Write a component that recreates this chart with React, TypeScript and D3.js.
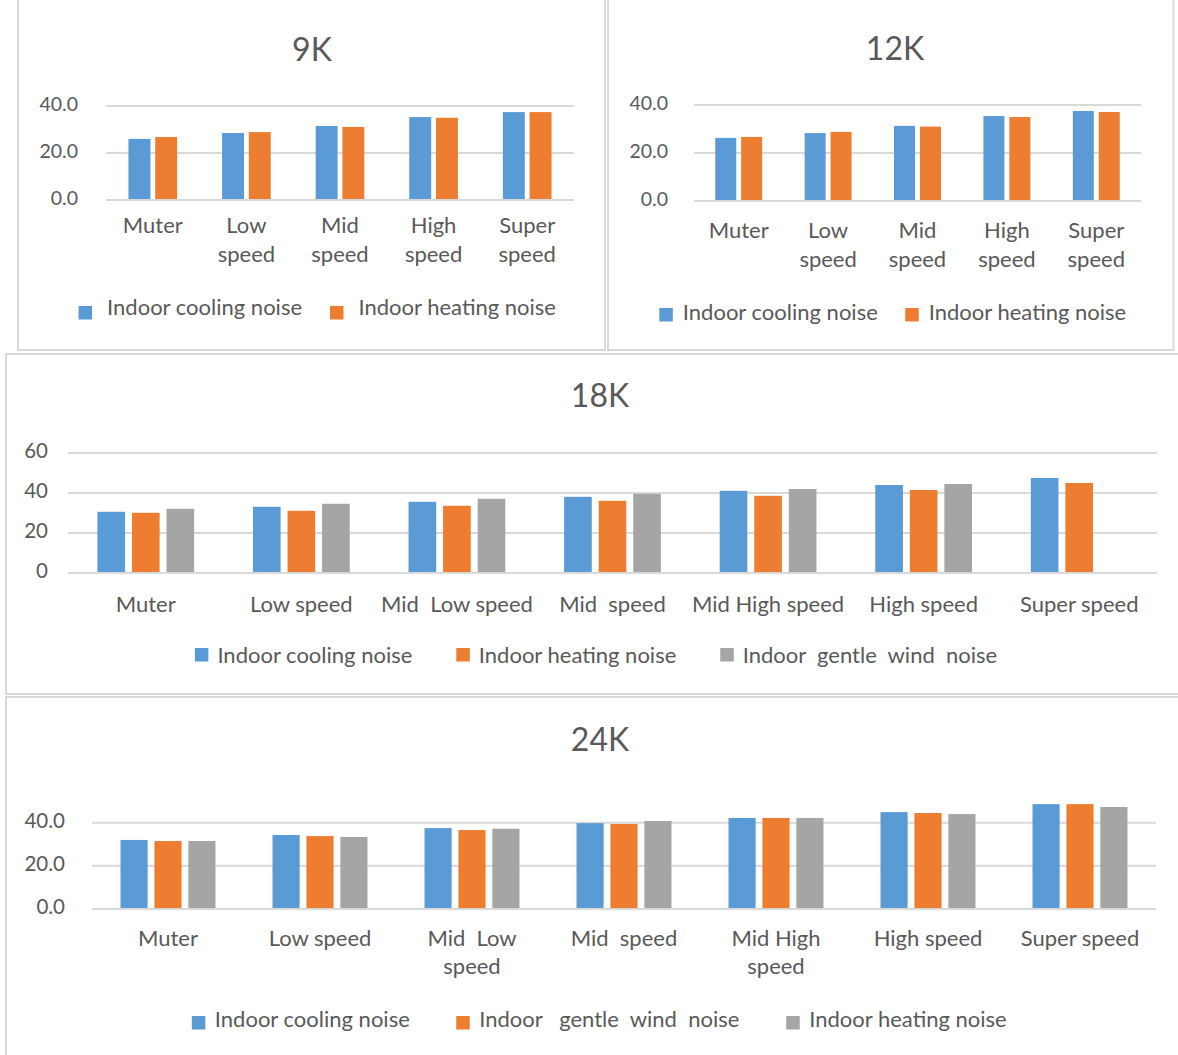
import * as d3 from "d3";

const blue = "#5b9bd5";
const orange = "#ed7d31";
const gray = "#a5a5a5";
const textColor = "#595959";
const lineColor = "#d9d9d9";
const font = "Lato";

// 9K
const cats9k = ["Muter", "Low\nspeed", "Mid\nspeed", "High\nspeed", "Super\nspeed"];
const cooling9k = [26.0, 28.5, 31.5, 35.3, 37.4];
const heating9k = [26.8, 28.9, 31.1, 35.0, 37.4];
const ticks9k = [0, 20, 40];

// 12K
const cats12k = ["Muter", "Low\nspeed", "Mid\nspeed", "High\nspeed", "Super\nspeed"];
const cooling12k = [26.3, 28.3, 31.3, 35.4, 37.5];
const heating12k = [26.7, 28.8, 31.0, 35.0, 37.1];
const ticks12k = [0, 20, 40];

// 18K
const cats18k = ["Muter", "Low speed", "Mid  Low speed", "Mid  speed", "Mid High speed", "High speed", "Super speed"];
const cooling18k = [30.6, 33.1, 35.6, 38.1, 41.1, 44.0, 47.5];
const heating18k = [30.1, 31.1, 33.6, 36.1, 38.6, 41.5, 45.0];
const gentle18k = [32.1, 34.6, 37.1, 39.6, 42.0, 44.5, null];
const ticks18k = [0, 20, 40, 60];

// 24K
const cats24k = ["Muter", "Low speed", "Mid  Low\nspeed", "Mid  speed", "Mid High\nspeed", "High speed", "Super speed"];
const cooling24k = [32.0, 34.3, 37.5, 39.8, 42.2, 44.9, 48.6];
const gentle24k = [31.5, 33.8, 36.6, 39.4, 42.2, 44.5, 48.6];
const heating24k = [31.5, 33.4, 37.2, 40.8, 42.2, 44.0, 47.3];
const ticks24k = [0, 20, 40];

type Series = { name: string, color: string, values: (number | null)[] };

const ctx = document.createElement("canvas").getContext("2d")!;
function textWidth(s: string, size: number) {
    ctx.font = `${size}px ${font}`;
    return ctx.measureText(s).width;
}

function BarPanel({title, cats, series, ticks, L}: {
    title: string, cats: string[], series: Series[], ticks: number[], L: any
}) {
    const x = d3.scaleBand<number>()
        .domain(cats.map((_, i) => i))
        .range([L.left, L.right])
        .paddingInner(L.pad)
        .paddingOuter(L.pad / 2);
    const xs = d3.scaleBand<string>()
        .domain(series.map(s => s.name))
        .range([0, x.bandwidth()])
        .paddingInner(L.barGap);
    const y = d3.scaleLinear().domain([0, L.max]).range([L.y0, L.yTop]);
    const fmt = d3.format(L.fmt);

    // legend layout, centred on L.legendX
    const widths = series.map(s => textWidth(s.name, L.legendSize));
    const total = d3.sum(widths) + series.length * (L.sq + L.sqGap) + (series.length - 1) * L.itemGap;
    let cursor = L.legendX - total / 2;
    const legendPos = widths.map(w => {
        const p = cursor;
        cursor += L.sq + L.sqGap + w + L.itemGap;
        return p;
    });

    return <g fontFamily={font} fill={textColor}>
        <text x={L.titleX} y={L.titleY} fontSize={L.titleSize} textAnchor="middle">{title}</text>
        {ticks.map(t => <g key={t}>
            <line x1={L.left} x2={L.right} y1={y(t)} y2={y(t)} stroke={lineColor} strokeWidth={2}/>
            <text x={L.left - L.tickGap} y={y(t) + L.tickSize * 0.26} fontSize={L.tickSize}
                  textAnchor="end">{fmt(t)}</text>
        </g>)}
        {cats.map((c, i) => <g key={c + i}>
            {series.map(s => s.values[i] == null ? null :
                <rect key={s.name} x={x(i)! + xs(s.name)!} width={xs.bandwidth()}
                      y={y(s.values[i]!)} height={y(0) - y(s.values[i]!)} fill={s.color}/>)}
            <text x={x(i)! + x.bandwidth() / 2} y={L.labelY} fontSize={L.labelSize} textAnchor="middle"
                  style={{whiteSpace: "pre"}}>
                {c.split("\n").map((line, k) =>
                    <tspan key={k} x={x(i)! + x.bandwidth() / 2} dy={k === 0 ? 0 : L.labelLH}>{line}</tspan>)}
            </text>
        </g>)}
        <line x1={L.left} x2={L.right} y1={y(0)} y2={y(0)} stroke={lineColor} strokeWidth={2}/>
        {series.map((s, i) => <g key={s.name}>
            <rect x={legendPos[i]} y={L.legendY + L.sqDy} width={L.sq} height={L.sq} fill={s.color}/>
            <text x={legendPos[i] + L.sq + L.sqGap} y={L.legendY} fontSize={L.legendSize}
                  style={{whiteSpace: "pre"}}>{s.name}</text>
        </g>)}
    </g>;
}

const layout9k = {
    left: 106, right: 574, y0: 200, yTop: 106, max: 40, pad: 0.48, barGap: 0.18,
    titleX: 312, titleY: 61, titleSize: 32, tickSize: 19.5, tickGap: 28, fmt: ".1f",
    labelY: 233, labelLH: 29, labelSize: 22,
    legendX: 317.5, legendY: 315, legendSize: 22, sq: 13.5, sqGap: 15, itemGap: 27.5, sqDy: -9
};
const layout12k = {
    left: 694, right: 1141, y0: 201, yTop: 105, max: 40, pad: 0.475, barGap: 0.19,
    titleX: 895, titleY: 60, titleSize: 32, tickSize: 19.5, tickGap: 26, fmt: ".1f",
    labelY: 238, labelLH: 29, labelSize: 22,
    legendX: 893, legendY: 320, legendSize: 22, sq: 13.5, sqGap: 10, itemGap: 27, sqDy: -12
};
const layout18k = {
    left: 68, right: 1157, y0: 573, yTop: 453, max: 60, pad: 0.378, barGap: 0.2,
    titleX: 600, titleY: 407, titleSize: 32, tickSize: 20.5, tickGap: 20, fmt: "d",
    labelY: 612, labelLH: 29, labelSize: 22,
    legendX: 596.5, legendY: 663, legendSize: 22, sq: 13.5, sqGap: 9, itemGap: 43.5, sqDy: -15
};
const layout24k = {
    left: 92, right: 1156, y0: 909, yTop: 822.7, max: 40, pad: 0.375, barGap: 0.2,
    titleX: 600, titleY: 751, titleSize: 32, tickSize: 20.5, tickGap: 27, fmt: ".1f",
    labelY: 946, labelLH: 28, labelSize: 22,
    legendX: 599.5, legendY: 1027, legendSize: 22, sq: 13.5, sqGap: 9.5, itemGap: 46, sqDy: -11
};

export default function App() {
    return <svg width={1178} height={1055} viewBox="0 0 1178 1055"
                style={{position: "absolute", left: 0, top: 0, background: "#fff"}}>
        <rect width={1178} height={1055} fill="#fff"/>
        {/* panel frames */}
        <g fill="none" stroke={lineColor} strokeWidth={2}>
            <rect x={18} y={-5} width={587} height={355}/>
            <rect x={608} y={-5} width={565.5} height={355}/>
            <rect x={6} y={354} width={1180} height={340}/>
            <rect x={6} y={697} width={1180} height={370}/>
        </g>
        <BarPanel title="9K" cats={cats9k} ticks={ticks9k} L={layout9k} series={[
            {name: "Indoor cooling noise", color: blue, values: cooling9k},
            {name: "Indoor heating noise", color: orange, values: heating9k},
        ]}/>
        <BarPanel title="12K" cats={cats12k} ticks={ticks12k} L={layout12k} series={[
            {name: "Indoor cooling noise", color: blue, values: cooling12k},
            {name: "Indoor heating noise", color: orange, values: heating12k},
        ]}/>
        <BarPanel title="18K" cats={cats18k} ticks={ticks18k} L={layout18k} series={[
            {name: "Indoor cooling noise", color: blue, values: cooling18k},
            {name: "Indoor heating noise", color: orange, values: heating18k},
            {name: "Indoor  gentle  wind  noise", color: gray, values: gentle18k},
        ]}/>
        <BarPanel title="24K" cats={cats24k} ticks={ticks24k} L={layout24k} series={[
            {name: "Indoor cooling noise", color: blue, values: cooling24k},
            {name: "Indoor   gentle  wind  noise", color: orange, values: gentle24k},
            {name: "Indoor heating noise", color: gray, values: heating24k},
        ]}/>
    </svg>;
}
